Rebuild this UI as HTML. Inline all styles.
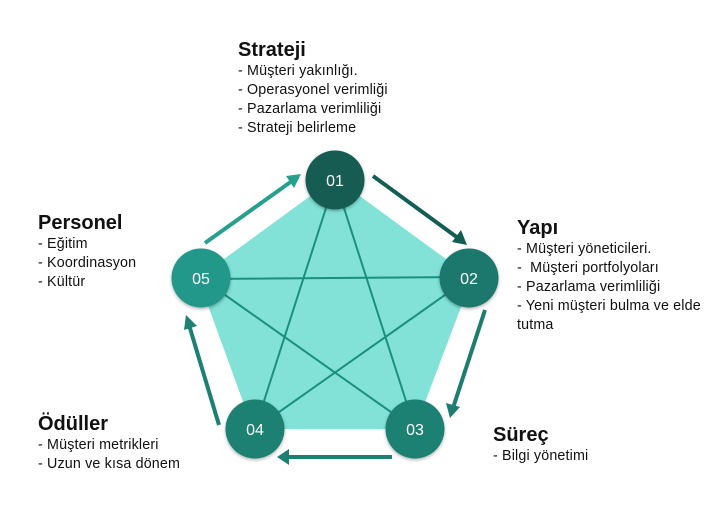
<!DOCTYPE html>
<html><head><meta charset="utf-8"><style>
body{margin:0;width:728px;height:513px;background:#fff;position:relative;overflow:hidden;font-family:"Liberation Sans",sans-serif;color:#111}
.t{position:absolute;font-size:14.3px;line-height:19px;white-space:nowrap;letter-spacing:0.15px}
.t b{display:block;font-size:20px;line-height:22px;margin-bottom:1px;letter-spacing:0}
svg{position:absolute;left:0;top:0}
</style></head><body>
<svg width="728" height="513">
<defs>
<filter id="sh" x="-30%" y="-30%" width="160%" height="160%"><feDropShadow dx="0" dy="1.5" stdDeviation="1.5" flood-opacity="0.3"/></filter>
</defs>
<polygon points="335,178 472,278 415,429 253,429 198,278" fill="#82e2d8"/>
<g stroke="#1a9080" stroke-width="2">
<line x1="335" y1="180" x2="415" y2="429"/>
<line x1="335" y1="180" x2="255" y2="429"/>
<line x1="201" y1="279" x2="469" y2="277"/>
<line x1="201" y1="278" x2="415" y2="429"/>
<line x1="469" y1="278" x2="255" y2="429"/>
</g>
<g stroke-width="4">
<line x1="205" y1="243" x2="292" y2="181" stroke="#26a08c"/>
<polygon points="301,174 286,176 294,188" fill="#26a08c"/>
<line x1="373" y1="176" x2="458" y2="238" stroke="#135e54"/>
<polygon points="467,245 452,242 461,230" fill="#135e54"/>
<line x1="485" y1="310" x2="453" y2="408" stroke="#1d7d70"/>
<polygon points="450,418 446,403 460,407" fill="#1d7d70"/>
<line x1="392" y1="457" x2="288" y2="457" stroke="#1e8073"/>
<polygon points="277,457 289,449 289,465" fill="#1e8073"/>
<line x1="219" y1="425" x2="189" y2="325" stroke="#1e8073"/>
<polygon points="186,315 184,330 197,326" fill="#1e8073"/>
</g>
<g filter="url(#sh)">
<circle cx="335" cy="180" r="29.5" fill="#135c53"/>
<circle cx="469" cy="278" r="29.5" fill="#1b786c"/>
<circle cx="415" cy="429" r="29.5" fill="#1e8073"/>
<circle cx="255" cy="429" r="29.5" fill="#1e8073"/>
<circle cx="201" cy="278" r="29.5" fill="#23988a"/>
</g>
<g fill="#fff" font-family="Liberation Sans,sans-serif" font-size="16" text-anchor="middle">
<text x="335" y="186">01</text><text x="469" y="284">02</text><text x="415" y="435">03</text><text x="255" y="435">04</text><text x="201" y="284">05</text>
</g>
</svg>
<div class="t" style="left:238px;top:39px"><b>Strateji</b>- Müşteri yakınlığı.<br>- Operasyonel verimliği<br>- Pazarlama verimliliği<br>- Strateji belirleme</div>
<div class="t" style="left:517px;top:217px"><b>Yapı</b>- Müşteri yöneticileri.<br>-&nbsp; Müşteri portfolyoları<br>- Pazarlama verimliliği<br>- Yeni müşteri bulma ve elde<br>tutma</div>
<div class="t" style="left:38px;top:212px"><b>Personel</b>- Eğitim<br>- Koordinasyon<br>- Kültür</div>
<div class="t" style="left:38px;top:413px"><b>Ödüller</b>- Müşteri metrikleri<br>- Uzun ve kısa dönem</div>
<div class="t" style="left:493px;top:424px"><b>Süreç</b>- Bilgi yönetimi</div>
</body></html>
